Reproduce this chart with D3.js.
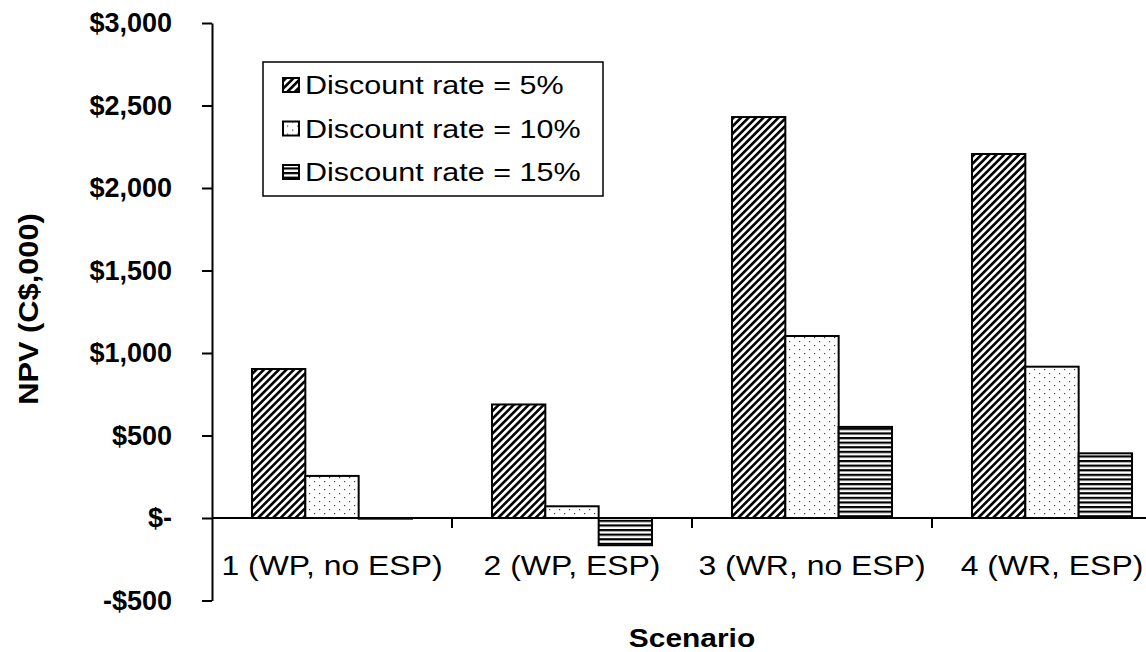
<!DOCTYPE html>
<html>
<head>
<meta charset="utf-8">
<script src="https://cdn.jsdelivr.net/npm/d3@7"></script>
<style>
  html, body { margin: 0; padding: 0; background: #fff; }
  svg { display: block; }
  text { font-family: "Liberation Sans", Arial, sans-serif; fill: #000; }
</style>
</head>
<body>
<svg id="chart" width="1146" height="652"></svg>
<script>
// ---- data ----
const categories = ["1 (WP, no ESP)", "2 (WP, ESP)", "3 (WR, no ESP)", "4 (WR, ESP)"];
const seriesNames = ["Discount rate = 5%", "Discount rate = 10%", "Discount rate = 15%"];
const rate5 = [903, 688, 2430, 2206];
const rate10 = [255, 71, 1103, 917];
const rate15 = [-4, -165, 552, 392];
const yTicks = [-500, 0, 500, 1000, 1500, 2000, 2500, 3000];
const yTitle = "NPV (C$,000)";
const xTitle = "Scenario";

const seriesValues = [rate5, rate10, rate15];
const rows = categories.map((c, i) => ({cat: c, vals: seriesValues.map((s, k) => ({k, v: s[i]}))}));

const svg = d3.select("#chart");
const W = 1146, H = 652;
const x0 = 212, x1 = 1172, yTop = 23, yBot = 600.5;

// ---- patterns ----
const defs = svg.append("defs");
const p1 = defs.append("pattern").attr("id", "pat0").attr("patternUnits", "userSpaceOnUse")
  .attr("width", 5.3).attr("height", 5.3).attr("patternTransform", "rotate(45)");
p1.append("rect").attr("width", 5.3).attr("height", 5.3).attr("fill", "#fff");
p1.append("rect").attr("x", 0).attr("y", 0).attr("width", 2.6).attr("height", 5.3).attr("fill", "#000");

const p2 = defs.append("pattern").attr("id", "pat1").attr("patternUnits", "userSpaceOnUse")
  .attr("width", 10).attr("height", 8);
p2.append("rect").attr("width", 10).attr("height", 8).attr("fill", "#fff");
p2.append("rect").attr("x", 2).attr("y", 1).attr("width", 1.2).attr("height", 1.2).attr("fill", "#444");
p2.append("rect").attr("x", 7).attr("y", 5).attr("width", 1.2).attr("height", 1.2).attr("fill", "#444");

const p3 = defs.append("pattern").attr("id", "pat2").attr("patternUnits", "userSpaceOnUse")
  .attr("width", 8).attr("height", 4.6);
p3.append("rect").attr("width", 8).attr("height", 4.6).attr("fill", "#fff");
p3.append("rect").attr("x", 0).attr("y", 0).attr("width", 8).attr("height", 2.2).attr("fill", "#000");

// ---- scales ----
const x = d3.scaleBand().domain(categories).range([x0, x1]).paddingInner(0).paddingOuter(0);
const xs = d3.scaleBand().domain(d3.range(seriesNames.length)).range([40, x.bandwidth() - 40]).padding(0);
const y = d3.scaleLinear().domain([-500, 3000]).range([yBot, yTop]);

// ---- bars ----
const g = svg.append("g");
const groups = g.selectAll("g.cat").data(rows).join("g")
  .attr("transform", d => `translate(${x(d.cat)},0)`);
groups.selectAll("rect").data(d => d.vals).join("rect")
  .attr("x", d => xs(d.k))
  .attr("width", xs.bandwidth())
  .attr("y", d => y(Math.max(0, d.v)))
  .attr("height", d => Math.abs(y(d.v) - y(0)))
  .attr("fill", d => `url(#pat${d.k})`)
  .attr("stroke", "#000")
  .attr("stroke-width", 2);

// ---- y axis ----
const fmt = v => v === 0 ? "$-" : (v < 0 ? "-$" + d3.format(",")(-v) : "$" + d3.format(",")(v));
const yAxis = d3.axisLeft(y).tickValues(yTicks).tickFormat(fmt).tickSize(10).tickPadding(30).tickSizeOuter(0);
const ya = svg.append("g").attr("transform", `translate(${x0},0)`).call(yAxis);
ya.select(".domain").attr("stroke", "#000").attr("stroke-width", 2);
ya.selectAll(".tick line").attr("stroke", "#000").attr("stroke-width", 2);
ya.selectAll(".tick text").attr("font-size", 27).attr("font-weight", "bold")
  .style("font-family", '"Liberation Sans", Arial, sans-serif').attr("fill", "#000");

// ---- x axis on zero line ----
const xAxis = d3.axisBottom(x).tickValues([]).tickSizeOuter(0);
const xa = svg.append("g").attr("transform", `translate(0,${y(0)})`).call(xAxis);
xa.select(".domain").remove();
xa.append("line").attr("x1", x0).attr("x2", W).attr("y1", 0).attr("y2", 0)
  .attr("stroke", "#000").attr("stroke-width", 2);
xa.selectAll("line.bt").data(categories.slice(1)).join("line").attr("class", "bt")
  .attr("x1", d => x(d)).attr("x2", d => x(d)).attr("y1", 0).attr("y2", 10)
  .attr("stroke", "#000").attr("stroke-width", 2);

function stretch(sel, f) {
  sel.each(function() {
    const L = this.getComputedTextLength();
    d3.select(this).attr("textLength", L * f).attr("lengthAdjust", "spacingAndGlyphs");
  });
}

const xl = svg.append("g").selectAll("text").data(categories).join("text")
  .attr("x", d => x(d) + x.bandwidth() / 2)
  .attr("y", 575)
  .attr("text-anchor", "middle")
  .attr("font-size", 28)
  .text(d => d);
stretch(xl, 1.14);

// ---- titles ----
const xt = svg.append("text").attr("x", 692).attr("y", 647).attr("text-anchor", "middle")
  .attr("font-size", 26).attr("font-weight", "bold").text(xTitle);
stretch(xt, 1.15);
const yt = svg.append("text").attr("transform", "translate(38,309) rotate(-90)")
  .attr("text-anchor", "middle").attr("font-size", 27).attr("font-weight", "bold").text(yTitle);
stretch(yt, 1.14);

// ---- legend ----
const lg = svg.append("g");
lg.append("rect").attr("x", 263).attr("y", 62).attr("width", 340).attr("height", 134)
  .attr("fill", "#fff").attr("stroke", "#000").attr("stroke-width", 1.5);
const rowY = [85, 128.5, 172];
const items = lg.selectAll("g.item").data(seriesNames).join("g").attr("class", "item")
  .attr("transform", (d, i) => `translate(0,${rowY[i]})`);
items.append("rect").attr("x", 283).attr("y", -7).attr("width", 16).attr("height", 14)
  .attr("fill", (d, i) => `url(#pat${i})`).attr("stroke", "#000").attr("stroke-width", 2);
const lt = items.append("text").attr("x", 305).attr("y", 9).attr("font-size", 25).text(d => d);
stretch(lt, 1.22);
</script>
</body>
</html>
